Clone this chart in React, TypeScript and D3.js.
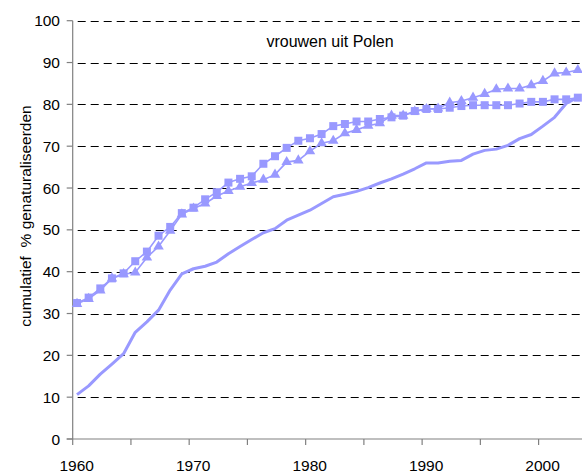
import React from "react";
import * as d3 from "d3";

const years = [
  1960, 1961, 1962, 1963, 1964, 1965, 1966, 1967, 1968, 1969,
  1970, 1971, 1972, 1973, 1974, 1975, 1976, 1977, 1978, 1979,
  1980, 1981, 1982, 1983, 1984, 1985, 1986, 1987, 1988, 1989,
  1990, 1991, 1992, 1993, 1994, 1995, 1996, 1997, 1998, 1999,
  2000, 2001, 2002, 2003,
];

const seriesLine = [
  10.6, 12.7, 15.5, 17.9, 20.4, 25.5, 28, 30.8, 35.6, 39.5,
  40.7, 41.3, 42.3, 44.3, 46, 47.7, 49.3, 50.3, 52.3, 53.5,
  54.7, 56.3, 57.9, 58.5, 59.2, 60.1, 61.2, 62.2, 63.3, 64.6,
  66, 66, 66.4, 66.6, 68.1, 69, 69.3, 70.2, 71.8, 72.8,
  74.8, 76.9, 80.2, 81.7,
];

const seriesSquare = [
  32.5, 33.8, 36, 38.4, 39.6, 42.5, 44.8, 48.6, 50.7, 54,
  55.3, 57.3, 59, 61.3, 62.2, 62.8, 65.8, 67.6, 69.6, 71.3,
  71.9, 72.9, 74.8, 75.3, 75.9, 75.9, 76.5, 76.9, 77.3, 78.4,
  78.9, 78.9, 79.2, 79.6, 79.8, 79.8, 79.8, 79.8, 80.2, 80.6,
  80.6, 81.2, 81.2, 81.6,
];

const seriesTriangle = [
  32.3, 33.5, 35.5, 38.4, 39.4, 39.8, 43.4, 46, 49.8, 53.7,
  55.1, 56.3, 58.1, 59.3, 60.3, 61.2, 62, 63.2, 66.2, 66.6,
  68.8, 70.7, 71.3, 73.1, 73.9, 74.9, 75.5, 77.3, 77.3, 78.3,
  78.9, 79, 80.4, 80.8, 81.6, 82.5, 83.6, 83.8, 83.8, 84.6,
  85.6, 87.4, 87.6, 88.2,
];

const yTicks = [0, 10, 20, 30, 40, 50, 60, 70, 80, 90, 100];
const xMajorTicks = [1960, 1970, 1980, 1990, 2000];
const xMinorTicks = [1965, 1975, 1985, 1995];

const title = "vrouwen uit Polen";
const yTitle = "cumulatief  % genaturaliseerden";

const W = 582;
const H = 476;
const FONT = "'Liberation Sans', Arial, Helvetica, sans-serif";
const COLOR = "#9999ff";
const POINT_SHIFT = 0.37; // points sit slightly right of the year tick

export default function App() {
  const x = d3.scaleLinear().domain([1960, 2000]).range([72.7, 538.6]);
  const y = d3.scaleLinear().domain([0, 100]).range([439, 20.7]);
  const left = x(1960);
  const right = W;
  const px = (yr: number) => x(yr + POINT_SHIFT);

  const line = d3
    .line<number>()
    .x((_, i) => px(years[i]))
    .y((d) => y(d));

  const sq = 8;
  const tri = d3.symbol(d3.symbolTriangle, 48)();

  return (
    <svg
      width={W}
      height={H}
      style={{ position: "absolute", left: 0, top: 0, background: "#fff" }}
      fontFamily={FONT}
    >
      {/* gridlines */}
      {yTicks
        .filter((t) => t > 0)
        .map((t) => (
          <line
            key={"g" + t}
            x1={left}
            x2={right}
            y1={Math.round(y(t)) + 0.5}
            y2={Math.round(y(t)) + 0.5}
            stroke="#000"
            strokeWidth={1}
            strokeDasharray="8,5"
            strokeDashoffset={-5}
          />
        ))}

      {/* axes */}
      <line x1={left} x2={left} y1={y(100)} y2={y(0)} stroke="#808080" strokeWidth={1.2} />
      <line x1={left - 6} x2={right} y1={y(0)} y2={y(0)} stroke="#808080" strokeWidth={1.2} />
      {yTicks.map((t) => (
        <g key={"yt" + t}>
          <line x1={left - 6} x2={left} y1={y(t)} y2={y(t)} stroke="#808080" strokeWidth={1.2} />
          <text x={60} y={y(t)} dy="0.36em" textAnchor="end" fontSize={15.5} fill="#000">
            {t}
          </text>
        </g>
      ))}
      {[...xMajorTicks, ...xMinorTicks].map((t) => (
        <line key={"xt" + t} x1={x(t)} x2={x(t)} y1={y(0)} y2={y(0) + 6} stroke="#808080" strokeWidth={1.2} />
      ))}
      {xMajorTicks.map((t) => (
        <text key={"xl" + t} x={x(t) + 4} y={471} textAnchor="middle" fontSize={15.5} fill="#000">
          {t}
        </text>
      ))}

      {/* titles */}
      <text x={330} y={47} textAnchor="middle" fontSize={16} fill="#000">
        {title}
      </text>
      <text
        transform={`translate(31,216) rotate(-90)`}
        textAnchor="middle"
        fontSize={15.5}
        fill="#000"
        style={{ whiteSpace: "pre" }}
        xmlSpace="preserve"
      >
        {yTitle}
      </text>

      {/* series */}
      <path d={line(seriesLine) || ""} fill="none" stroke={COLOR} strokeWidth={3} strokeLinejoin="round" />
      <path d={line(seriesSquare) || ""} fill="none" stroke={COLOR} strokeWidth={1.6} />
      <path d={line(seriesTriangle) || ""} fill="none" stroke={COLOR} strokeWidth={1.6} />
      {seriesSquare.map((v, i) => (
        <rect key={"s" + i} x={px(years[i]) - sq / 2} y={y(v) - sq / 2} width={sq} height={sq} fill={COLOR} />
      ))}
      {seriesTriangle.map((v, i) => (
        <path key={"t" + i} d={tri || ""} transform={`translate(${px(years[i])},${y(v)})`} fill={COLOR} />
      ))}
    </svg>
  );
}
